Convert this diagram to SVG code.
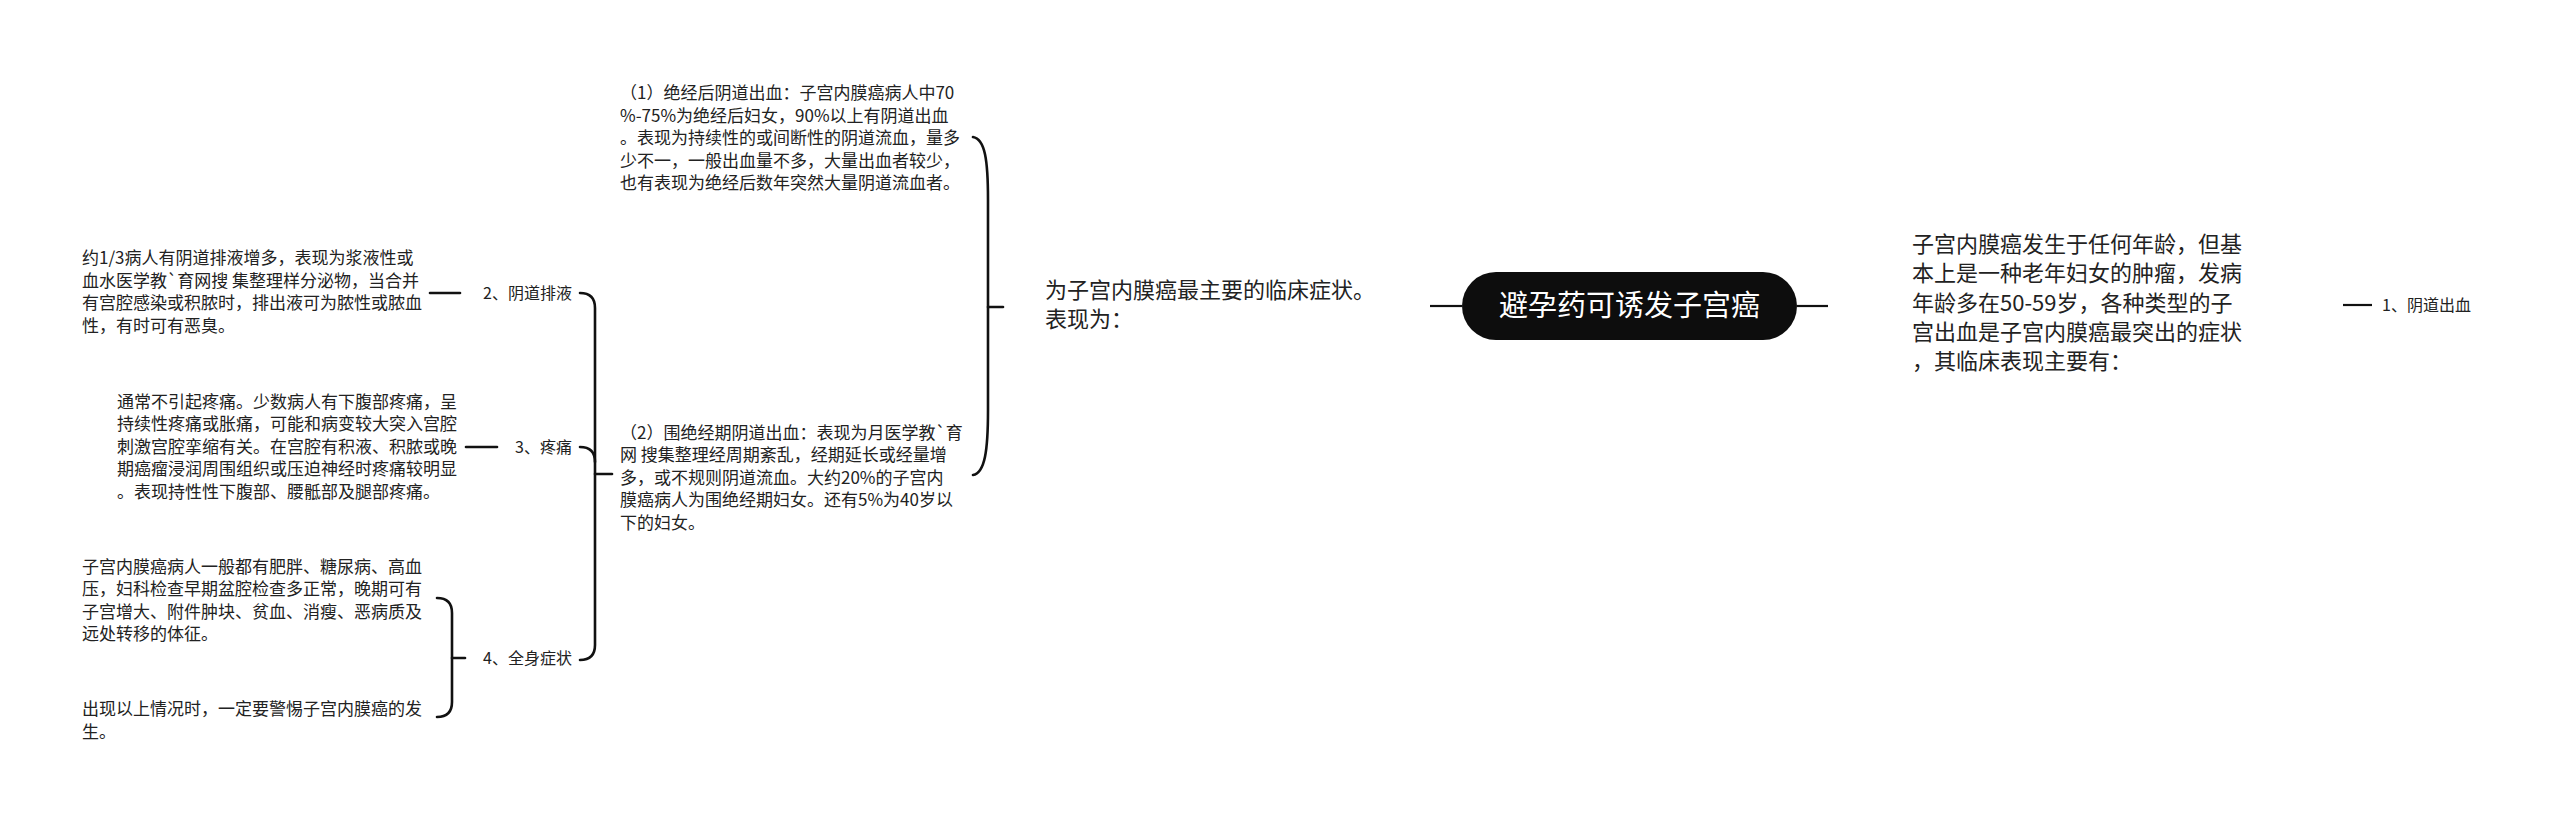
<svg xmlns="http://www.w3.org/2000/svg" width="2560" height="823" viewBox="0 0 2560 823">
<style>
text{font-family:"Noto Sans CJK SC","Microsoft YaHei",sans-serif;fill:#222}
.s{font-size:17px}
.l{font-size:16px}
.m{font-size:22px}
.c{font-size:29px;fill:#fff}
.ln{fill:none;stroke:#111;stroke-width:2.6;stroke-linecap:round}
.thin{fill:none;stroke:#111;stroke-width:2.2}
</style>
<rect width="2560" height="823" fill="#fff"/>
<g id="connectors">
<line class="thin" x1="1430" y1="306" x2="1462" y2="306"/>
<line class="thin" x1="1797" y1="306" x2="1828" y2="306"/>
<line class="thin" x1="2343" y1="305" x2="2372" y2="305"/>
<path class="ln" d="M973,137 C985,139 988,160 988,200 L988,410 C988,450 985,473 973,475"/>
<path class="ln" d="M988,307 L1003,307"/>
<path class="ln" d="M580,293 Q595,293 595,308 L595,645 Q595,660 580,660"/>
<path class="ln" d="M580,447 Q595,447 595,462"/>
<path class="ln" d="M595,474 L612,474"/>
<path class="ln" d="M430,293 L460,293"/>
<path class="ln" d="M466,447 L497,447"/>
<path class="ln" d="M437,598 Q452,598 452,613 L452,702 Q452,717 437,717"/>
<path class="ln" d="M452,658 L465,658"/>
</g>
<g id="root">
<rect x="1462" y="272" width="335" height="68" rx="34" fill="#0d0d0d"/>
<text class="c" x="1629.5" y="316" text-anchor="middle">避孕药可诱发子宫癌</text>
</g>
<g id="intro">
<text class="m" x="1912"><tspan x="1912" y="252">子宫内膜癌发生于任何年龄，但基</tspan><tspan x="1912" y="281">本上是一种老年妇女的肿瘤，发病</tspan><tspan x="1912" y="311">年龄多在50-59岁，各种类型的子</tspan><tspan x="1912" y="340">宫出血是子宫内膜癌最突出的症状</tspan><tspan x="1912" y="369">，其临床表现主要有：</tspan></text>
</g>
<g id="n1">
<text class="l" x="2382" y="311">1、阴道出血</text>
</g>
<g id="main">
<text class="m" x="1045"><tspan x="1045" y="298">为子宫内膜癌最主要的临床症状。</tspan><tspan x="1045" y="327">表现为：</tspan></text>
</g>
<g id="p1">
<text class="s" x="620"><tspan x="620" y="99">（1）绝经后阴道出血：子宫内膜癌病人中70</tspan><tspan x="620" y="122">%-75%为绝经后妇女，90%以上有阴道出血</tspan><tspan x="620" y="144">。表现为持续性的或间断性的阴道流血，量多</tspan><tspan x="620" y="167">少不一，一般出血量不多，大量出血者较少，</tspan><tspan x="620" y="189">也有表现为绝经后数年突然大量阴道流血者。</tspan></text>
</g>
<g id="p2">
<text class="s" x="620"><tspan x="620" y="439">（2）围绝经期阴道出血：表现为月医学教`育</tspan><tspan x="620" y="461">网 搜集整理经周期紊乱，经期延长或经量增</tspan><tspan x="620" y="484">多，或不规则阴道流血。大约20%的子宫内</tspan><tspan x="620" y="506">膜癌病人为围绝经期妇女。还有5%为40岁以</tspan><tspan x="620" y="529">下的妇女。</tspan></text>
</g>
<g id="n2">
<text class="l" x="572" y="299" text-anchor="end">2、阴道排液</text>
</g>
<g id="n2d">
<text class="s" x="82"><tspan x="82" y="264">约1/3病人有阴道排液增多，表现为浆液性或</tspan><tspan x="82" y="287">血水医学教`育网搜 集整理样分泌物，当合并</tspan><tspan x="82" y="309">有宫腔感染或积脓时，排出液可为脓性或脓血</tspan><tspan x="82" y="332">性，有时可有恶臭。</tspan></text>
</g>
<g id="n3">
<text class="l" x="572" y="453" text-anchor="end">3、疼痛</text>
</g>
<g id="n3d">
<text class="s" x="117"><tspan x="117" y="408">通常不引起疼痛。少数病人有下腹部疼痛，呈</tspan><tspan x="117" y="430">持续性疼痛或胀痛，可能和病变较大突入宫腔</tspan><tspan x="117" y="453">刺激宫腔挛缩有关。在宫腔有积液、积脓或晚</tspan><tspan x="117" y="475">期癌瘤浸润周围组织或压迫神经时疼痛较明显</tspan><tspan x="117" y="498">。表现持性性下腹部、腰骶部及腿部疼痛。</tspan></text>
</g>
<g id="n4">
<text class="l" x="572" y="664" text-anchor="end">4、全身症状</text>
</g>
<g id="n4a">
<text class="s" x="82"><tspan x="82" y="573">子宫内膜癌病人一般都有肥胖、糖尿病、高血</tspan><tspan x="82" y="595">压，妇科检查早期盆腔检查多正常，晚期可有</tspan><tspan x="82" y="618">子宫增大、附件肿块、贫血、消瘦、恶病质及</tspan><tspan x="82" y="640">远处转移的体征。</tspan></text>
</g>
<g id="n4b">
<text class="s" x="82"><tspan x="82" y="715">出现以上情况时，一定要警惕子宫内膜癌的发</tspan><tspan x="82" y="738">生。</tspan></text>
</g>
</svg>
